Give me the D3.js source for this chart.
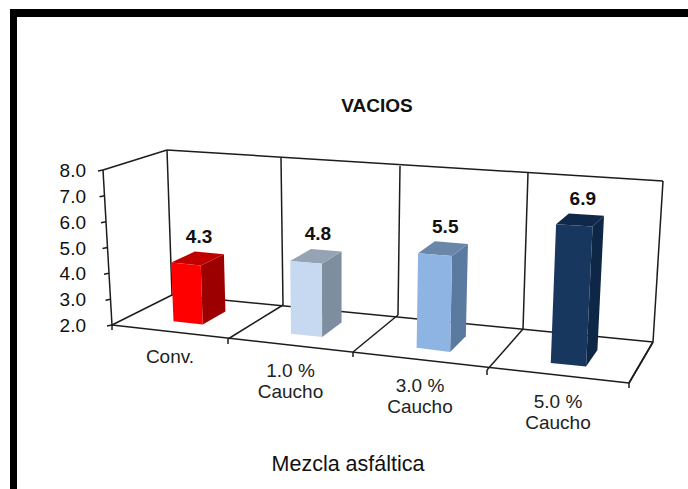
<!DOCTYPE html>
<html>
<head>
<meta charset="utf-8">
<script src="https://cdn.jsdelivr.net/npm/d3@7"></script>
<style>
html,body{margin:0;padding:0;background:#fff;}
svg{display:block;font-family:"Liberation Sans",Arial,sans-serif;}
</style>
</head>
<body>
<svg id="chart" width="688" height="489"></svg>
<script>
// Chart content
const chartTitle = "VACIOS";
const axisTitle = "Mezcla asfáltica";
const categories = [["Conv."], ["1.0 %", "Caucho"], ["3.0 %", "Caucho"], ["5.0 %", "Caucho"]];
const values = [4.3, 4.8, 5.5, 6.9];
const yTicks = [2, 3, 4, 5, 6, 7, 8];
const frontColors = ["#ff0000", "#c6d9f1", "#8db4e2", "#17375e"];
const topColors = ["#c00000", "#95a3b5", "#6a87aa", "#10294a"];
const sideColors = ["#9c0000", "#7f8e9e", "#5b7a9f", "#0f2746"];

// Perspective box: each scale maps a category slot boundary to a screen coordinate
const slots = [0, 1, 2, 3, 4];
const frontBaseX = d3.scaleLinear(slots, [112, 228, 353, 487, 629]);
const frontBaseY = d3.scaleLinear(slots, [325, 339, 352, 370, 383]);
const frontTopX = d3.scaleLinear(slots, [103, 224, 354, 491, 639]);
const frontTopY = d3.scaleLinear(slots, [170, 181, 190, 197, 205]);
const backBaseX = d3.scaleLinear(slots, [172, 283, 398, 523, 653]);
const backBaseY = d3.scaleLinear(slots, [295, 305, 315, 329, 342]);
const backTopX = d3.scaleLinear(slots, [167, 281, 400, 528, 663]);
const backTopY = d3.scaleLinear(slots, [150, 158, 166, 173, 181]);
const heightScale = d3.scaleLinear([2, 8], [0, 1]);

// Project slot position u, depth d (0 front, 1 back) and value onto the screen
function project(u, d, value) {
  const h = heightScale(value);
  const bx = d3.interpolateNumber(frontBaseX(u), backBaseX(u))(d);
  const by = d3.interpolateNumber(frontBaseY(u), backBaseY(u))(d);
  const tx = d3.interpolateNumber(frontTopX(u), backTopX(u))(d);
  const ty = d3.interpolateNumber(frontTopY(u), backTopY(u))(d);
  return [bx + (tx - bx) * h, by + (ty - by) * h];
}

const svg = d3.select("#chart");
const ink = "#1c1c1c";

// Thick frame on the top and left edges
svg.append("rect").attr("x", 10).attr("y", 9).attr("width", 678).attr("height", 8).attr("fill", "#000");
svg.append("rect").attr("x", 10).attr("y", 9).attr("width", 7).attr("height", 480).attr("fill", "#000");

const line = (a, b, w = 1.5) => svg.append("line")
  .attr("x1", a[0]).attr("y1", a[1]).attr("x2", b[0]).attr("y2", b[1])
  .attr("stroke", ink).attr("stroke-width", w);

// Back wall, floor and left wall outlines
line(project(0, 1, 8), project(4, 1, 8));
line(project(0, 1, 2), project(4, 1, 2));
line(project(0, 0, 8), project(0, 1, 8));
line(project(0, 0, 2), project(0, 0, 8));
line(project(4, 0, 2), project(4, 1, 2));
line(project(0, 0, 2), project(4, 0, 2));
slots.forEach(s => {
  line(project(s, 1, 2), project(s, 1, 8));
  line(project(s, 0, 2), project(s, 1, 2));
  const p = project(s, 0, 2);
  line(p, [p[0], p[1] + 5]);
});

// Value axis ticks and labels
yTicks.forEach(t => {
  const p = project(0, 0, t);
  line(p, [p[0] - 5, p[1] + 1]);
  svg.append("text").attr("x", 86).attr("y", 325 + (170 - 325) * heightScale(t) + 7)
    .attr("text-anchor", "end").attr("font-size", 19).attr("fill", "#111")
    .text(d3.format(".1f")(t));
});

// Bars: side and top faces first, front face over them
const barU = [0.385, 0.64], barD = [0.29, 0.69];
values.forEach((v, i) => {
  const u0 = i + barU[0], u1 = i + barU[1];
  const poly = (pts, fill) => svg.append("polygon")
    .attr("points", pts.map(p => p.join(",")).join(" ")).attr("fill", fill);
  poly([project(u1, barD[0], 2), project(u1, barD[1], 2), project(u1, barD[1], v), project(u1, barD[0], v)], sideColors[i]);
  poly([project(u0, barD[0], v), project(u1, barD[0], v), project(u1, barD[1], v), project(u0, barD[1], v)], topColors[i]);
  poly([project(u0, barD[0], 2), project(u1, barD[0], 2), project(u1, barD[0], v), project(u0, barD[0], v)], frontColors[i]);

  // Value label centred over the top face
  const cx = project(i + 0.51, 0.45, v)[0];
  const cy = project(i + 0.51, barD[1], v)[1];
  svg.append("text").attr("x", cx + 4).attr("y", cy - 10)
    .attr("text-anchor", "middle").attr("font-size", 19).attr("font-weight", "bold")
    .attr("fill", "#111").text(d3.format(".1f")(v));
});

// Category labels below the front edge
categories.forEach((lines, i) => {
  const p = project(i + 0.5, 0, 2);
  lines.forEach((txt, k) => {
    svg.append("text").attr("x", p[0]).attr("y", p[1] + 31 + k * 21)
      .attr("text-anchor", "middle").attr("font-size", 19).attr("fill", "#222").text(txt);
  });
});

svg.append("text").attr("x", 377).attr("y", 112).attr("text-anchor", "middle")
  .attr("font-size", 19).attr("font-weight", "bold").attr("fill", "#111").text(chartTitle);
svg.append("text").attr("x", 348).attr("y", 471).attr("text-anchor", "middle")
  .attr("font-size", 21.5).attr("fill", "#111").text(axisTitle);
</script>
</body>
</html>
